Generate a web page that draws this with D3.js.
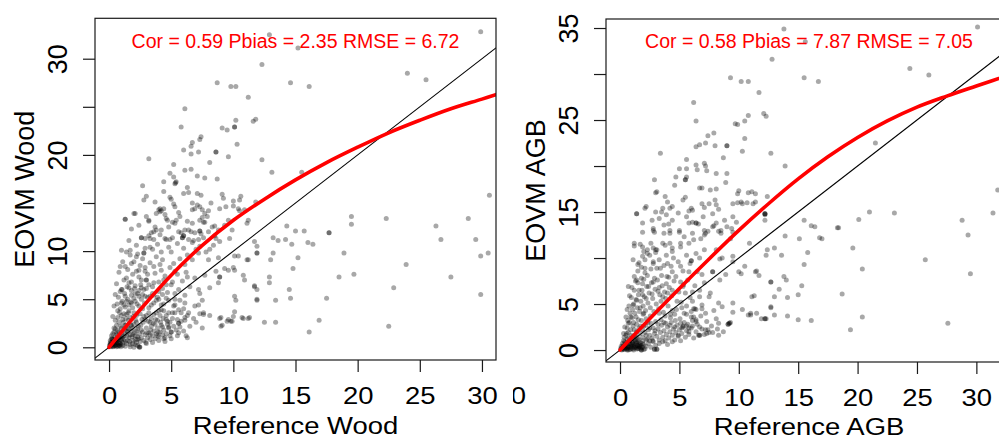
<!DOCTYPE html>
<html>
<head>
<meta charset="utf-8">
<script src="https://cdn.jsdelivr.net/npm/d3@7"></script>
<style>
  body { margin: 0; background: #fff; }
  svg { display: block; }
  text { font-family: "Liberation Sans", Arial, Helvetica, sans-serif; }
</style>
</head>
<body>
<svg id="chart" width="999" height="439"></svg>
<script>
// ---- data -------------------------------------------------------------
const xTickValues = [0, 5, 10, 15, 20, 25, 30];
const woodYTickValues = [0, 5, 10, 15, 20, 25, 30];
const woodYTickLabels = ["0", "5", "10", "", "20", "", "30"];
const agbYTickValues = [0, 5, 10, 15, 20, 25, 30, 35];
const agbYTickLabels = ["0", "5", "", "15", "", "25", "", "35"];

const woodStats = "Cor = 0.59 Pbias = 2.35 RMSE = 6.72";
const agbStats = "Cor = 0.58 Pbias = 7.87 RMSE = 7.05";

// smoothed fit of EOVM against reference
const woodFitX = [0, 2.5, 5, 7.5, 10, 12.5, 15, 17.5, 20, 22.5, 25, 27.5, 30, 31.2];
const woodFitY = [0, 3.9, 7.5, 10.6, 13.2, 15.4, 17.4, 19.2, 20.8, 22.3, 23.6, 24.8, 25.8, 26.3];
const agbFitX = [0, 2.5, 5, 7.5, 10, 12.5, 15, 17.5, 20, 22.5, 25, 27.5, 30, 33];
const agbFitY = [0, 3.4, 6.7, 9.9, 13.0, 15.9, 18.6, 21.0, 23.1, 24.9, 26.4, 27.6, 28.7, 30.0];

// reference wood vs EOVM wood, one [reference, eovm] pair per plot
const woodPoints = [
  [12.9,32.5],[15.2,31.1],[29.9,32.8],[12.3,29.4],[24.0,28.5],[25.5,27.8],[8.7,27.5],[14.6,27.5],
  [9.8,27.1],[10.2,27.1],[16.1,27.1],[11.2,26.0],[6.1,24.8],[11.8,23.7],[11.6,23.5],[5.8,22.9],
  [9.1,22.8],[9.5,22.6],[10.1,22.9],[10.1,22.9],[10.2,23.6],[7.4,21.9],[7.3,21.6],[6.7,21.3],[6.6,20.9],
  [10.3,21.1],[6.0,20.5],[8.6,20.3],[8.6,20.3],[7.2,20.3],[6.6,20.1],[9.6,19.8],[3.2,19.6],[12.3,19.5],
  [8.1,19.2],[5.2,19.0],[13.1,18.2],[15.5,18.2],[6.1,18.4],[6.6,18.5],[4.9,18.1],[5.2,17.7],[7.1,17.8],
  [5.4,17.2],[5.3,17.0],[5.35,17.1],[7.7,17.6],[8.7,17.5],[4.4,17.2],[2.7,16.8],[4.4,16.2],[6.0,16.0],
  [6.4,16.1],[7.1,16.0],[7.4,15.8],[9.1,15.9],[9.2,15.5],[10.6,15.7],[10.5,15.3],[3.0,15.7],[2.8,15.3],
  [5.0,15.4],[3.7,15.1],[11.8,15.1],[10.0,15.2],[5.2,14.9],[5.3,14.6],[6.7,15.0],[7.1,14.8],[8.2,15.0],
  [4.1,14.4],[4.1,14.1],[4.2,14.2],[6.7,14.3],[6.9,14.4],[7.3,14.6],[7.5,14.3],[7.7,13.9],[8.9,14.4],
  [9.4,14.6],[10.0,14.7],[10.4,14.4],[10.5,14.2],[10.9,14.3],[2.0,13.9],[1.3,13.3],[3.0,13.6],[3.2,13.2],
  [4.5,13.8],[4.7,13.2],[5.4,13.2],[5.1,13.0],[5.7,13.6],[6.3,13.1],[6.7,12.9],[7.3,13.2],[7.6,13.0],
  [7.9,13.6],[11.2,13.2],[11.1,12.9],[8.5,12.6],[14.3,12.6],[19.5,13.6],[19.5,12.8],[22.3,13.4],
  [28.9,13.4],[26.3,12.6],[30.6,15.8],[17.7,11.9],[17.7,11.9],[15.0,12.1],[15.7,12.1],[7.3,12.1],
  [7.3,12.1],[6.1,12.2],[5.8,11.9],[3.8,12.2],[3.6,12.0],[3.4,11.9],[1.8,12.3],[2.6,11.4],[2.9,11.3],
  [3.3,11.3],[4.5,11.3],[4.9,11.2],[5.9,11.4],[5.9,11.4],[6.4,11.2],[6.8,11.1],[7.2,11.2],[7.6,11.4],
  [8.6,11.3],[13.2,11.4],[13.6,11.1],[14.2,11.2],[16.0,10.9],[16.4,10.7],[11.7,11.0],[11.9,10.5],
  [14.7,10.7],[26.7,11.2],[29.5,11.2],[29.9,9.5],[30.5,9.8],[18.9,9.8],[23.9,8.6],[18.5,7.3],[19.7,7.6],
  [27.5,7.3],[22.9,6.2],[29.9,5.5],[17.5,5.1],[16.9,2.8],[22.5,2.2],[16.1,1.6],[13.4,2.6],[12.5,2.6],
  [14.5,6.0],[14.6,5.1],[13.4,4.9],[14.8,8.2],[15.2,9.3],[12.9,7.3],[12.9,6.7],[11.9,6.0],[11.9,4.9],
  [11.7,6.4],[11.2,9.1],[11.9,9.8],[13.2,9.8],[13.0,9.1],[10.8,7.5],[10.9,7.0],[10.4,9.5],[10.2,4.9],
  [10.0,8.3],[9.6,8.0],[8.9,7.3],[8.8,6.7],[8.9,3.0],[9.1,2.3],[9.5,2.7],[9.9,2.7],[10.1,3.7],[10.0,3.2],
  [10.8,3.0],[11.2,3.0],[7.6,3.4],[7.5,2.0],[7.3,5.6],[7.5,4.9],[7.2,4.4],[6.3,1.0],[6.1,2.8],[5.7,2.1],
  [5.4,1.8],
  // middle of the cloud
  [2.1,13.9],[1.3,13.3],[2.4,12.7],[3.2,13.1],[3.8,13.9],[4.0,14.3],[4.4,14.4],[4.6,13.4],[3.7,12.5],
  [4.2,12.2],[4.8,12.5],[5.3,12.9],[5.6,12.0],[6.0,11.6],[6.0,11.6],[6.4,12.2],[6.9,11.9],[7.5,13.5],
  [7.7,13.0],[8.0,12.0],[8.3,12.5],[8.5,11.6],[9.3,12.7],[9.6,13.2],[9.9,12.2],[2.6,11.4],[3.2,11.6],
  [3.6,11.2],[4.1,11.7],[4.6,11.2],[5.1,11.4],[6.0,10.3],[6.7,10.9],[7.3,10.5],[8.1,10.2],[8.9,11.0],
  [1.0,10.1],[1.7,10.1],[2.8,9.8],[2.8,9.8],[2.2,9.4],[3.3,10.4],[3.8,9.4],[4.2,9.9],[5.0,9.9],[5.7,9.2],
  [6.7,9.1],[7.2,9.8],[8.0,9.1],[8.8,9.3],[10.1,9.5],[11.1,9.1],[11.9,9.8],[1.3,8.4],[1.8,8.7],[2.4,8.0],
  [2.9,7.9],[3.6,8.4],[4.2,8.0],[5.3,7.9],[6.1,8.6],[6.2,7.8],[6.9,7.2],[7.7,7.5],[8.6,7.9],[9.3,8.2],
  [10.1,8.0],[1.4,7.2],[1.8,6.8],[2.4,7.3],[3.0,7.0],[3.0,7.0],[3.6,6.7],[4.4,7.0],[5.0,6.5],[5.6,6.0],
  [6.5,6.3],[7.2,6.0],[8.1,6.2],[8.9,7.3],[10.1,5.3],[11.7,6.3],[11.9,5.0],[1.0,6.0],[1.6,6.2],[2.1,5.6],
  [2.6,6.2],[3.3,5.3],[4.0,5.8],[4.6,5.1],[5.3,5.0],[6.1,4.6],[6.9,4.3],[7.6,3.6],[8.1,3.3],[9.0,3.1],
  [9.6,2.9],[9.8,2.7],[10.7,3.1],[11.3,3.1],[9.0,2.2],[5.3,3.6],[5.8,3.6],[6.1,3.1],[5.0,1.6],[6.2,1.2],
  [5.6,2.5],[5.6,2.5],[4.8,2.1],
  [4.8,10.4],[5.5,10.8],[6.3,9.6],[7.0,10.2],[7.8,9.9],[8.4,10.6],[4.3,9.1],[5.2,8.7],[3.5,10.2],
  [6.6,12.0],[7.4,11.8],[5.6,14.0],[4.9,15.6],[6.3,16.6],[8.0,14.2],[9.7,11.3],[8.8,12.2],[3.9,10.7],
  // dense cluster near the origin
  [0.05,0.1],[0.1,0.3],[0.15,0.05],[0.2,0.5],[0.25,0.2],[0.3,0.8],[0.35,0.1],[0.4,0.4],[0.45,1.0],
  [0.5,0.2],[0.55,0.6],[0.6,0.05],[0.65,1.3],[0.7,0.3],[0.75,0.8],[0.8,0.15],[0.85,0.5],[0.9,1.1],
  [0.95,0.3],[1.0,0.7],[0.1,0.7],[0.2,1.2],[0.3,0.3],[0.4,1.6],[0.5,0.9],[0.6,0.5],[0.7,1.8],[0.8,1.0],
  [0.9,0.4],[1.0,1.5],[0.15,0.4],[0.35,0.6],[0.55,0.25],[0.75,0.45],[0.95,0.05],[0.25,0.9],[0.45,0.15],
  [0.65,0.7],[0.85,0.2],[1.05,0.95],
  [1.1,0.2],[1.2,0.8],[1.3,1.4],[1.4,0.4],[1.5,2.0],[1.6,1.0],[1.7,0.3],[1.8,1.7],[1.9,0.7],[2.0,2.4],
  [2.1,1.2],[2.2,0.5],[2.3,1.9],[2.4,0.9],[1.15,2.6],[1.25,1.9],[1.35,3.0],[1.45,1.2],[1.55,2.8],
  [1.65,0.6],[1.75,2.3],[1.85,1.1],[1.95,3.2],[2.05,1.5],[2.15,2.8],[2.25,0.8],[2.35,2.2],[2.45,1.4],
  [1.1,1.1],[1.3,0.6],[1.5,1.6],[1.7,1.3],[1.9,2.0],[2.1,0.3],[2.3,1.1],[2.45,0.0],[2.42,0.05],
  [2.48,0.02],[1.2,3.5],[1.6,3.8],
  [2.6,1.0],[2.7,1.6],[2.8,0.7],[2.9,1.3],[3.0,2.0],[3.1,1.0],[3.2,1.5],[3.3,0.8],[3.4,2.2],[3.5,1.2],
  [3.6,1.7],[3.7,0.9],[3.8,1.4],[3.9,2.0],[4.0,1.1],[4.1,1.6],[4.2,2.3],[4.3,1.3],[4.4,1.8],[4.5,1.0],
  [2.55,2.3],[2.75,2.6],[2.95,0.5],[3.15,2.7],[3.35,1.8],[3.55,2.5],[3.75,2.9],[3.95,1.6],[4.15,2.6],
  [4.35,3.0],[4.6,1.4],[4.8,2.0],[5.0,1.6],[4.9,2.6],[3.05,1.5],
  [0.6,2.3],[0.7,3.1],[0.8,2.6],[0.9,4.0],[1.0,3.3],[0.5,1.9],[0.65,4.5],[0.85,3.6],[1.05,4.8],[1.1,2.9],
  [1.3,4.2],[1.4,3.4],[1.5,5.0],[1.6,4.4],[1.7,3.1],[1.8,5.4],[1.9,4.1],[2.0,3.6],[2.1,4.8],[2.2,3.3],
  [2.3,5.6],[2.4,4.3],[2.5,3.5],[2.6,5.0],[2.7,4.0],[2.8,3.2],[2.9,5.3],[1.25,5.6],[0.75,5.2],[1.05,6.0],
  [1.45,6.3],[2.05,6.1],[2.55,6.5],[0.95,2.2],[1.35,2.3],[2.65,2.9],[2.85,4.6],[1.75,4.7],[2.25,4.5],
  [1.55,3.6],
  [3.0,3.3],[3.2,4.1],[3.4,3.0],[3.6,4.6],[3.8,3.6],[4.0,5.0],[4.2,3.9],[4.4,4.5],[4.6,3.3],[4.8,4.9],
  [3.1,5.2],[3.5,5.6],[3.9,2.8],[4.3,5.5],[4.7,2.7],[5.1,3.6],[5.3,4.4],[5.5,2.9],[3.3,2.6],[4.1,3.3],
  [0.6,6.6],[0.8,7.8],[0.9,5.8],[1.1,8.9],[1.2,7.0],[1.3,5.3],[1.5,8.1],[1.6,6.7],[1.7,9.6],[1.8,5.9],
  [1.9,7.6],[2.0,8.9],[2.1,6.4],[2.2,7.9],[2.3,9.7],[2.4,5.9],[2.5,8.5],[2.6,7.0],[2.7,9.2],[2.8,6.0],
  [2.9,8.3],[1.0,4.6],[1.4,4.8],[2.0,5.1],[2.7,5.5],[0.7,3.8],[1.2,4.4],[1.8,4.6],[2.4,5.3],[3.0,6.1],
  [1.4,9.9],[2.2,10.6],[1.6,11.1],[2.9,10.3],[0.9,8.4],[0.5,5.5],[0.4,4.3],[0.3,3.2],[0.5,2.8],[0.4,2.0],
  [3.1,7.6],[3.3,8.8],[3.5,6.3],[3.7,7.7],[3.9,5.2],[4.1,8.6],[4.3,6.1],[4.5,7.4],[4.7,5.7],[4.9,8.3],
  [5.1,6.8],[5.3,5.6],[5.5,7.6],[5.7,4.9],[5.9,6.9],[6.1,5.4],[6.3,7.3],[3.2,6.5],[3.6,5.4],[4.0,6.8],
  [4.4,3.8],[4.8,3.6],[5.2,4.3],[5.6,3.9],[6.0,4.0],[6.4,3.6],[3.4,4.4],[3.8,4.9],[4.2,4.4],[4.6,6.5],
  [2.5,0.6],[3.0,0.4],[3.5,0.5],[4.0,0.7],[4.5,0.6],[5.0,0.9],[5.5,1.2],[6.0,1.7],[6.5,2.2],[7.0,2.6],
  [5.2,2.2],[5.8,2.7],[6.3,3.3],[6.8,3.0],[7.3,3.5],[4.6,2.9],[5.1,3.0],[5.6,1.5],[3.2,3.6],[3.6,3.4],
  [4.0,3.8],[2.9,2.9],[2.6,1.8],[3.3,1.3],[3.9,1.2],[4.4,0.9],[4.9,1.2],[4.3,2.1],[3.7,2.4],[4.7,2.4],
  [2.2,1.7],[1.9,1.3],[1.6,1.9],[1.3,2.3],[1.0,2.0],[0.8,1.6],[0.6,1.4],[0.3,1.4],[0.2,0.9],[0.1,0.5],
  [0.05,0.25],[0.3,0.05],[0.5,0.45],[0.7,0.1],[0.9,0.8],[1.1,0.5],[1.3,0.1],[1.5,0.7],[1.7,0.05],
  [1.9,0.4],[2.1,0.8],[2.3,0.2],[2.0,0.0],[1.2,1.2],[1.4,1.7],[1.8,2.3],[2.2,2.6]
];

// reference AGB vs EOVM AGB
const agbPoints = [
  [13.8,34.9],[30.1,35.1],[15.6,33.5],[12.8,31.6],[24.4,30.6],[26.0,29.9],[9.3,29.6],[10.2,29.2],
  [10.8,29.2],[15.5,29.6],[16.7,29.2],[11.7,28.0],[6.2,26.9],[6.4,24.9],[9.7,24.6],[9.9,24.5],
  [10.5,24.9],[10.8,25.5],[12.1,25.7],[12.3,25.4],[10.5,23.0],[7.9,23.6],[7.4,23.3],[7.2,22.5],
  [6.7,22.3],[6.4,22.1],[3.4,21.4],[8.0,22.2],[9.0,22.2],[9.0,22.2],[10.3,21.6],[12.7,21.4],[8.7,20.9],
  [5.6,20.7],[7.1,20.3],[7.2,20.0],[6.4,20.1],[13.9,20.0],[21.5,22.5],[5.0,19.7],[5.6,19.7],[6.5,19.6],
  [7.3,19.5],[8.1,19.2],[9.0,19.2],[4.7,18.8],[5.5,18.5],[5.5,18.5],[5.6,18.8],[2.9,18.5],[8.9,18.2],
  [4.6,17.9],[6.7,17.6],[6.9,17.6],[7.6,17.4],[8.1,17.5],[3.0,17.1],[3.1,17.2],[10.0,17.3],[9.9,17.0],
  [10.8,17.1],[11.1,17.2],[11.4,17.0],[12.4,16.7],[31.8,17.4],[3.8,16.7],[4.0,16.1],[4.4,15.6],[4.2,15.4],
  [5.3,16.3],[5.5,16.6],[5.8,15.1],[6.0,15.4],[6.9,15.9],[7.1,15.5],[7.5,15.9],[8.0,16.3],[8.1,15.8],
  [8.3,15.3],[9.5,15.9],[9.9,16.0],[10.2,16.1],[10.7,16.0],[11.2,15.9],[11.4,16.1],[3.6,15.4],[3.5,15.0],
  [2.1,15.4],[1.4,14.8],[12.2,14.8],[12.2,14.8],[21.0,15.0],[23.1,14.9],[31.4,14.9],[28.8,14.1],
  [20.1,14.2],[29.3,12.5],[15.5,14.1],[16.1,13.5],[16.4,13.4],[18.3,13.3],[18.4,13.3],[16.8,12.2],
  [17.0,12.1],[15.1,12.1],[13.9,12.4],[1.9,13.8],[2.7,14.1],[2.8,13.0],[2.9,12.8],[3.7,13.6],[4.1,13.7],
  [4.2,12.7],[5.0,13.0],[5.8,13.8],[6.1,13.9],[6.6,13.7],[7.1,13.0],[7.4,12.9],[7.9,13.5],[8.3,12.9],
  [8.5,13.0],[9.0,13.4],[9.4,13.2],[9.5,12.8],[9.8,13.9],[12.2,14.1],[12.2,14.7],[1.2,11.3],[1.7,11.5],
  [2.0,10.7],[2.8,11.1],[3.1,10.9],[3.8,11.4],[4.2,11.6],[4.4,10.7],[5.1,11.2],[5.8,11.6],[6.2,12.0],
  [6.0,9.7],[6.0,9.7],[6.7,10.0],[7.1,12.5],[8.4,9.9],[9.5,9.6],[13.0,11.1],[13.6,10.3],[12.3,10.3],
  [15.8,10.6],[19.6,11.1],[25.7,9.8],[20.4,8.8],[29.5,8.3],[15.5,9.3],[11.5,8.6],[11.7,8.1],[13.8,8.0],
  [14.0,7.6],[12.7,7.4],[13.4,6.6],[15.3,7.0],[18.7,6.1],[13.0,5.8],[14.1,5.7],[15.0,6.0],[11.3,5.9],
  [10.2,8.3],[10.5,9.1],[7.6,6.2],[8.3,5.1],[12.7,4.6],[9.5,4.1],[9.3,3.0],[9.1,2.8],[9.1,2.8],
  [10.8,3.8],[11.0,4.0],[11.5,4.0],[11.9,3.4],[12.2,3.4],[12.3,3.4],[13.0,3.8],[14.1,3.7],[15.0,3.3],
  [16.1,3.2],[20.4,3.6],[19.4,2.2],[27.6,2.9],[8.3,2.9],[7.5,1.9],[7.3,1.8],[6.7,2.5],[6.7,1.6],
  [6.0,4.2],[6.2,3.6],[6.9,4.5],[6.4,3.3],[6.3,4.5],[5.8,2.4],[5.2,2.4],[4.9,1.6],[2.9,0.1],[3.1,0.1],
  [1.8,0.0],
  // middle of the cloud
  [1.4,14.8],[2.2,15.6],[3.0,15.0],[3.3,14.3],[3.9,14.7],[4.4,14.1],[4.9,14.9],[5.6,14.5],[6.1,15.2],
  [6.4,13.8],[6.4,13.8],[7.0,14.5],[7.8,14.8],[8.1,13.8],[8.8,14.1],[9.5,14.5],[10.3,15.9],[12.2,14.8],
  [1.9,12.8],[2.8,13.2],[3.7,12.7],[4.2,13.0],[5.0,12.8],[5.4,12.3],[6.1,12.7],[6.8,12.1],[7.2,12.7],
  [7.8,13.4],[8.5,12.7],[9.3,12.1],[1.2,11.6],[1.9,11.2],[2.3,10.5],[3.0,10.9],[3.6,11.6],[4.4,11.1],
  [5.1,11.6],[5.6,10.3],[6.4,10.5],[7.1,10.9],[8.1,10.9],[8.6,10.0],[9.5,10.2],[10.9,11.6],[12.4,10.9],
  [1.1,9.8],[1.5,9.3],[2.1,8.9],[2.8,9.4],[3.4,8.9],[4.0,9.4],[4.4,8.5],[5.1,9.1],[5.8,8.5],[6.9,8.2],
  [7.8,8.5],[7.8,8.5],[8.4,7.6],[8.9,8.2],[10.0,8.5],[11.4,8.5],[12.7,7.4],[0.7,6.9],[1.4,7.6],[1.9,7.2],
  [2.8,7.4],[3.3,6.8],[3.9,7.2],[4.4,6.5],[5.3,6.9],[6.1,6.3],[6.7,5.8],[7.5,5.8],[8.6,4.7],[9.5,5.1],
  [10.3,4.4],[11.1,5.8],[12.7,4.7],[6.4,4.4],[7.2,4.0],[8.1,3.4],[9.2,2.9],[9.2,2.9],[7.2,2.2],[6.7,1.6],
  [5.8,2.0],[5.3,2.5],[11.0,3.8],[12.2,3.4],
  // dense cluster near the origin
  [0.05,0.1],[0.1,0.4],[0.15,0.0],[0.2,0.7],[0.25,0.2],[0.3,1.0],[0.35,0.05],[0.4,0.5],[0.45,0.25],
  [0.5,0.8],[0.55,0.1],[0.6,1.2],[0.65,0.4],[0.7,0.0],[0.75,0.7],[0.8,0.3],[0.85,1.0],[0.9,0.1],
  [0.95,0.55],[1.0,0.2],[1.05,0.8],[1.1,0.4],[1.15,0.0],[1.2,0.6],[1.25,1.1],[1.3,0.3],[1.35,0.75],
  [1.4,0.1],[1.45,0.5],[1.5,0.9],[1.55,0.2],[1.6,0.6],[1.65,0.35],[1.7,0.8],[1.75,0.1],[1.8,0.5],
  [1.9,0.3],[2.0,0.6],[2.1,0.15],[0.2,0.35],[0.4,0.9],[0.6,0.2],[0.8,0.65],[1.0,1.0],[1.2,0.25],
  [1.4,0.85],[0.3,0.55],[0.7,0.45],[1.1,0.65],[1.5,0.45],[2.9,0.05],[3.1,0.05],[1.8,0.0],
  [1.1,1.5],[1.2,2.2],[1.3,1.7],[1.4,2.8],[1.5,1.3],[1.6,2.4],[1.7,1.8],[1.8,3.2],[1.9,1.4],[2.0,2.6],
  [2.1,1.9],[2.2,3.4],[2.3,1.2],[2.4,2.2],[2.5,1.6],[2.6,2.9],[2.7,1.3],[2.8,2.4],[2.9,1.8],[3.0,3.1],
  [1.15,3.0],[1.35,3.6],[1.55,3.3],[1.75,2.6],[1.95,3.9],[2.15,2.7],[2.35,3.0],[2.55,3.7],[2.75,1.0],
  [2.95,2.1],
  [3.1,1.5],[3.2,2.3],[3.3,1.1],[3.4,1.9],[3.5,2.7],[3.6,1.4],[3.7,2.1],[3.8,1.0],[3.9,1.7],[4.0,2.5],
  [4.1,1.3],[4.2,2.0],[4.3,3.0],[4.4,1.6],[4.5,2.3],[4.6,1.1],[4.7,1.9],[4.8,2.7],[4.9,1.5],[5.0,2.2],
  [5.1,1.0],[5.2,1.8],[5.3,2.6],[5.5,1.4],[5.6,2.1],[5.8,1.7],[6.0,2.4],[6.2,1.3],[6.4,2.0],[6.6,1.6],
  [6.9,2.3],[7.1,1.7],[3.45,3.3],[3.85,2.9],[4.25,3.5],[4.65,3.2],[5.05,3.4],[5.4,3.0],[5.7,2.8],
  [6.1,3.2],
  [0.5,1.6],[0.6,2.4],[0.7,1.9],[0.8,3.0],[0.9,2.2],[1.0,3.5],[0.65,3.2],[0.85,4.0],[1.05,4.4],[1.15,5.0],
  [1.25,4.0],[1.35,5.5],[1.45,4.6],[1.55,6.0],[1.65,4.2],[1.75,5.3],[1.85,6.5],[1.95,4.8],[2.05,5.8],
  [2.15,4.3],[2.25,6.9],[2.35,5.1],[2.45,6.2],[2.55,4.6],[2.65,7.3],[2.75,5.6],[2.85,4.2],[2.95,6.6],
  [3.05,5.0],[3.15,7.6],[3.25,4.5],[3.35,6.0],[3.45,5.3],[3.55,7.0],[3.65,4.1],[3.75,6.3],[3.85,5.6],
  [3.95,8.0],[4.05,4.8],[4.15,6.8],[4.25,3.9],[4.35,5.9],[4.55,7.5],[4.75,4.4],[4.95,6.3],[5.15,5.2],
  [5.35,7.1],[5.6,4.8],[5.9,5.7],[6.2,4.5],[0.95,5.7],[1.2,6.5],[1.5,7.3],[1.8,7.8],[2.1,8.4],[0.75,4.8],
  [1.1,2.6],[2.0,4.0],
  [0.6,4.4],[0.8,5.9],[0.9,3.6],[1.0,6.8],[1.1,4.9],[1.3,7.5],[1.4,5.4],[1.5,8.6],[1.6,6.5],[1.7,4.6],
  [1.8,9.0],[1.9,6.0],[2.0,7.7],[2.1,9.8],[2.2,5.6],[2.3,8.1],[2.4,6.9],[2.5,10.3],[2.6,8.8],[2.7,6.1],
  [2.8,9.6],[2.9,7.8],[3.0,10.6],[1.2,8.0],[0.7,2.9],[0.4,2.5],[0.3,1.8],[0.5,3.6],[1.6,9.5],[2.3,10.9],
  [1.9,10.2],[2.6,11.6],
  [3.1,8.9],[3.3,9.8],[3.5,8.1],[3.7,9.2],[3.9,10.3],[4.1,7.9],[4.3,9.1],[4.5,10.0],[4.7,8.0],[4.9,9.6],
  [5.1,7.4],[5.3,8.6],[5.5,6.2],[5.7,7.6],[5.9,9.4],[6.1,5.3],[6.3,7.0],[6.5,8.5],[6.7,6.5],[6.9,4.9],
  [7.1,7.3],[3.2,6.4],[3.6,5.8],[4.0,6.2],[4.4,4.3],[4.8,5.3],[5.2,4.6],[5.6,3.9],[6.0,3.6],[6.4,3.1],
  [6.8,3.7],[7.3,3.1],[7.7,2.6],[8.2,2.3],[8.7,2.0],[7.9,4.3],[3.3,4.0],[3.8,3.7],[4.6,3.9],[5.4,4.0],
  [0.1,0.2],[0.2,0.05],[0.3,0.3],[0.4,0.15],[0.5,0.45],[0.6,0.0],[0.7,0.25],[0.8,0.05],[0.9,0.35],
  [1.0,0.6],[1.1,0.1],[1.2,0.45],[1.3,0.9],[1.4,0.3],[1.5,0.15],[1.6,0.4],[1.7,0.55],[1.8,0.25],
  [1.9,0.7],[2.0,0.05],[2.2,0.4],[2.4,0.7],[2.6,0.3],[2.8,0.9],[3.0,0.5],[3.3,0.7],[3.6,0.9],[4.0,0.6],
  [4.4,0.9],[0.35,1.4],[0.55,1.8],[0.75,1.3],[0.95,1.6],[1.15,1.2],[1.35,1.4],[1.6,1.1],[1.9,1.0],
  [2.2,1.1],[2.5,1.0],[2.5,2.4],[2.2,1.6],[1.4,2.0],[1.9,2.2],[3.2,2.8],[3.7,3.0],[4.2,2.7],[4.6,2.5],
  [5.1,2.9],[5.6,2.6],[6.1,2.6],[6.5,2.8],[7.4,2.2],[7.8,1.9],[8.3,1.6]
];

// ---- layout ------------------------------------------------------------
const svg = d3.select("#chart");

const panels = [
  {
    id: "wood", points: woodPoints, fitX: woodFitX, fitY: woodFitY, stats: woodStats,
    yTicks: woodYTickValues, yLabels: woodYTickLabels,
    xTitle: "Reference Wood", yTitle: "EOVM Wood",
    box: { left: 95, right: 496, top: 18.3, bottom: 360 },
    xDomain: [-1.13, 31.13], yDomain: [-1.32, 34.2]
  },
  {
    id: "agb", points: agbPoints, fitX: agbFitX, fitY: agbFitY, stats: agbStats,
    yTicks: agbYTickValues, yLabels: agbYTickLabels,
    xTitle: "Reference AGB", yTitle: "EOVM AGB",
    box: { left: 606, right: 1012, top: 19, bottom: 362 },
    xDomain: [-1.18, 33.0], yDomain: [-1.3, 35.98]
  }
];

const ink = "#1a1a1a";
const hScale = 1.12;   // horizontal text width factor

function drawPanel(p) {
  const b = p.box;
  const x = d3.scaleLinear().domain(p.xDomain).range([b.left, b.right]);
  const y = d3.scaleLinear().domain(p.yDomain).range([b.bottom, b.top]);

  const clipId = "clip-" + p.id;
  svg.append("clipPath").attr("id", clipId)
    .append("rect")
    .attr("x", b.left).attr("y", b.top)
    .attr("width", b.right - b.left).attr("height", b.bottom - b.top);

  const plot = svg.append("g").attr("clip-path", `url(#${clipId})`);

  // scatter points
  plot.append("g")
    .selectAll("circle")
    .data(p.points)
    .join("circle")
    .attr("cx", d => x(d[0]))
    .attr("cy", d => y(d[1]))
    .attr("r", 2.5)
    .attr("fill", "#000")
    .attr("fill-opacity", 0.34);

  // 1:1 line
  const lo = Math.min(p.xDomain[0], p.yDomain[0]);
  const hi = Math.max(p.xDomain[1], p.yDomain[1]);
  plot.append("line")
    .attr("x1", x(lo)).attr("y1", y(lo))
    .attr("x2", x(hi)).attr("y2", y(hi))
    .attr("stroke", "#000").attr("stroke-width", 1.1);

  // fitted curve
  const fit = p.fitX.map((v, i) => [v, p.fitY[i]]);
  plot.append("path")
    .datum(fit)
    .attr("fill", "none")
    .attr("stroke", "#ff0000")
    .attr("stroke-width", 3.6)
    .attr("stroke-linecap", "round")
    .attr("d", d3.line().x(d => x(d[0])).y(d => y(d[1])).curve(d3.curveCatmullRom.alpha(0.5)));

  // frame
  svg.append("rect")
    .attr("x", b.left).attr("y", b.top)
    .attr("width", b.right - b.left).attr("height", b.bottom - b.top)
    .attr("fill", "none").attr("stroke", ink).attr("stroke-width", 1.2);

  // x axis
  const gx = svg.append("g")
    .attr("transform", `translate(0,${b.bottom})`)
    .call(d3.axisBottom(x).tickValues(xTickValues).tickSize(12).tickFormat(d3.format("d")));
  gx.select(".domain").remove();
  gx.selectAll(".tick line").attr("stroke", ink).attr("stroke-width", 1.2);
  gx.selectAll(".tick text")
    .attr("y", 0).attr("dy", null)
    .attr("transform", `translate(0,44) scale(${hScale},1)`)
    .attr("fill", "#000")
    .style("font-size", "24.5px")
    .style("font-family", "'Liberation Sans', Arial, sans-serif");

  // y axis
  const gy = svg.append("g")
    .attr("transform", `translate(${b.left},0)`)
    .call(d3.axisLeft(y).tickValues(p.yTicks).tickSize(12)
      .tickFormat((d, i) => p.yLabels[i]));
  gy.select(".domain").remove();
  gy.selectAll(".tick line").attr("stroke", ink).attr("stroke-width", 1.2);
  gy.selectAll(".tick text")
    .attr("x", 0).attr("dy", null)
    .attr("text-anchor", "middle")
    .attr("transform", "translate(-28.5,0) rotate(-90)")
    .attr("fill", "#000")
    .style("font-size", "27px")
    .style("font-family", "'Liberation Sans', Arial, sans-serif");

  const cx = (b.left + b.right) / 2;
  const cy = (b.top + b.bottom) / 2;

  // axis titles
  svg.append("text")
    .attr("text-anchor", "middle")
    .attr("transform", `translate(${cx},${p.id === "wood" ? 433.5 : 434.5}) scale(${hScale},1)`)
    .style("font-size", "24.5px")
    .attr("fill", "#000")
    .text(p.xTitle);

  svg.append("text")
    .attr("text-anchor", "middle")
    .attr("transform", `translate(${b.left - 61.5},${cy}) rotate(-90)`)
    .style("font-size", "27px")
    .attr("fill", "#000")
    .text(p.yTitle);

  // statistics label
  svg.append("text")
    .attr("text-anchor", "middle")
    .attr("x", cx).attr("y", 48.3)
    .style("font-size", "19.5px")
    .attr("fill", "#ff0000")
    .text(p.stats);
}

panels.forEach(drawPanel);

// partially hidden tick label between the panels
svg.append("clipPath").attr("id", "clip-gap")
  .append("rect").attr("x", 513).attr("y", 370).attr("width", 20).attr("height", 50);
svg.append("g")
  .attr("clip-path", "url(#clip-gap)")
  .append("text")
  .attr("text-anchor", "middle")
  .attr("transform", `translate(518.5,404) scale(${hScale},1)`)
  .style("font-size", "24.5px")
  .attr("fill", "#000")
  .text("0");
</script>
</body>
</html>
